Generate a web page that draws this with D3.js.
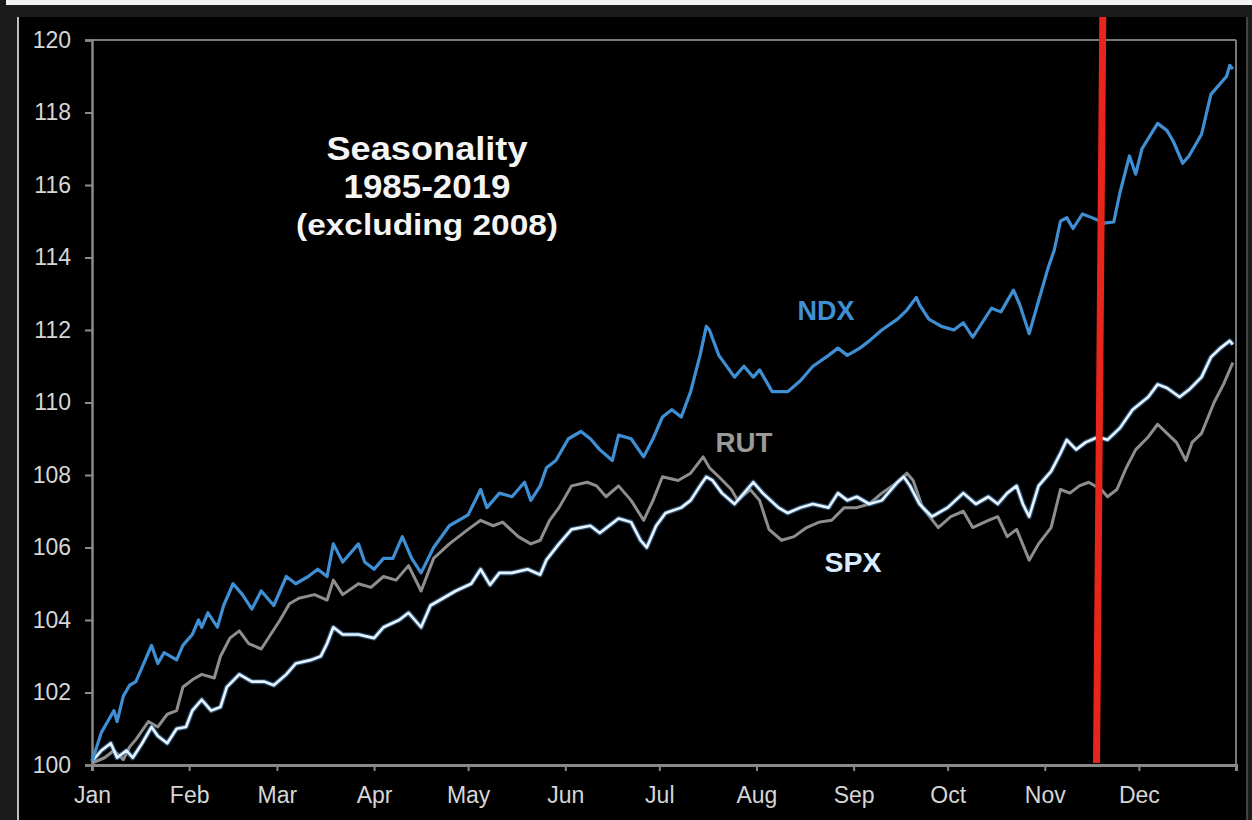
<!DOCTYPE html>
<html>
<head>
<meta charset="utf-8">
<script src="https://cdn.jsdelivr.net/npm/d3@7/dist/d3.min.js"></script>
<style>
  html, body { margin: 0; padding: 0; background: #1b1b1b; }
  svg { display: block; }
  text { font-family: "Liberation Sans", Arial, sans-serif; }
</style>
</head>
<body>
<svg id="chart" width="1252" height="820"></svg>
<script>
// ---- data (day-of-year offset from Jan 1, value indexed to 100) ----
const monthLabels = ["Jan","Feb","Mar","Apr","May","Jun","Jul","Aug","Sep","Oct","Nov","Dec"];
const yTicks = [100,102,104,106,108,110,112,114,116,118,120];
const titleLines = ["Seasonality", "1985-2019", "(excluding 2008)"];
const seriesNames = ["NDX", "RUT", "SPX"];
const markerDays = [320.5, 322.5]; // red vertical marker (bottom, top)

const ndx = [
  [0,100.1],[3,100.9],[5,101.2],[7,101.5],[8,101.2],[10,101.9],[12,102.2],[14,102.3],[16,102.7],[19,103.3],
  [21,102.8],[23,103.1],[27,102.9],[29,103.3],[32,103.6],[34,104.0],[35,103.8],[37,104.2],[40,103.8],[42,104.4],
  [45,105.0],[48,104.7],[51,104.3],[54,104.8],[58,104.4],[62,105.2],[65,105.0],[69,105.2],[72,105.4],[75,105.2],
  [77,106.1],[80,105.6],[85,106.1],[87,105.6],[90,105.4],[93,105.7],[96,105.7],[99,106.3],[102,105.7],[105,105.3],
  [109,106.0],[114,106.6],[120,106.9],[124,107.6],[126,107.1],[130,107.5],[134,107.4],[138,107.8],[140,107.3],[143,107.7],
  [145,108.2],[148,108.4],[152,109.0],[156,109.2],[159,109.0],[162,108.7],[166,108.4],[168,109.1],[172,109.0],[176,108.5],
  [179,109.0],[182,109.6],[185,109.8],[188,109.6],[191,110.3],[194,111.3],[196,112.1],[197,112.0],[200,111.3],[205,110.7],
  [208,111.0],[211,110.7],[213,110.9],[217,110.3],[222,110.3],[226,110.6],[230,111.0],[235,111.3],[238,111.5],[241,111.3],
  [245,111.5],[248,111.7],[252,112.0],[257,112.3],[260,112.55],[263,112.9],[264,112.7],[267,112.3],[271,112.1],[275,112.0],
  [278,112.2],[281,111.8],[284,112.2],[287,112.6],[290,112.5],[294,113.1],[296,112.7],[299,111.9],[302,112.8],[305,113.7],
  [307,114.2],[309,115.0],[311,115.1],[313,114.8],[316,115.2],[319,115.1],[323,114.95],[326,114.98],[328,115.8],[331,116.8],
  [333,116.3],[335,117.0],[340,117.7],[343,117.5],[345,117.2],[348,116.6],[350,116.8],[354,117.4],[357,118.5],[359,118.7],
  [362,119.0],[363,119.3],[364,119.2]
];

const spx = [
  [0,100.1],[3,100.4],[6,100.6],[8,100.2],[11,100.4],[13,100.2],[16,100.6],[19,101.05],[21,100.8],[24,100.6],
  [27,101.0],[30,101.05],[32,101.5],[35,101.8],[38,101.5],[41,101.6],[43,102.15],[47,102.5],[51,102.3],[55,102.3],
  [58,102.2],[62,102.5],[65,102.8],[70,102.9],[73,103.0],[75,103.35],[77,103.8],[80,103.6],[85,103.6],[90,103.5],
  [93,103.8],[98,104.0],[101,104.2],[105,103.8],[108,104.4],[112,104.6],[116,104.8],[121,105.0],[124,105.4],[127,104.97],
  [130,105.3],[134,105.3],[139,105.4],[143,105.25],[145,105.66],[149,106.1],[153,106.5],[159,106.6],[162,106.4],[165,106.6],
  [168,106.8],[172,106.7],[175,106.2],[177,106.0],[180,106.6],[183,106.95],[188,107.1],[191,107.3],[194,107.7],[196,107.95],
  [198,107.85],[201,107.5],[205,107.2],[207,107.4],[211,107.8],[214,107.5],[219,107.1],[222,106.95],[226,107.1],[230,107.2],
  [235,107.1],[238,107.5],[241,107.3],[244,107.4],[248,107.2],[252,107.3],[257,107.8],[259,107.95],[261,107.7],[264,107.2],
  [268,106.85],[273,107.1],[278,107.5],[282,107.2],[286,107.4],[289,107.2],[292,107.5],[295,107.7],[297,107.2],[299,106.85],
  [302,107.7],[306,108.1],[309,108.6],[311,108.97],[314,108.7],[317,108.9],[321,109.05],[324,108.97],[328,109.3],[332,109.8],
  [337,110.15],[340,110.5],[343,110.4],[347,110.15],[350,110.35],[354,110.7],[357,111.25],[360,111.5],[363,111.7],[364,111.6]
];

const rut = [
  [0,100.05],[4,100.2],[7,100.4],[10,100.15],[12,100.5],[14,100.7],[18,101.2],[21,101.05],[24,101.4],[27,101.5],
  [29,102.15],[32,102.35],[35,102.5],[39,102.4],[41,103.0],[44,103.5],[47,103.7],[50,103.35],[54,103.2],[57,103.6],
  [60,104.0],[63,104.45],[66,104.6],[71,104.7],[75,104.55],[77,105.1],[80,104.7],[85,105.0],[89,104.9],[93,105.2],
  [97,105.1],[101,105.5],[105,104.8],[109,105.7],[114,106.1],[120,106.5],[124,106.75],[128,106.6],[131,106.7],[136,106.3],
  [140,106.1],[143,106.2],[146,106.75],[149,107.1],[153,107.7],[158,107.8],[161,107.7],[164,107.4],[168,107.7],[172,107.3],
  [176,106.75],[179,107.3],[182,107.95],[187,107.85],[191,108.05],[195,108.5],[197,108.2],[200,107.95],[204,107.6],[206,107.3],
  [210,107.6],[213,107.3],[216,106.5],[220,106.2],[224,106.3],[228,106.55],[232,106.7],[236,106.75],[240,107.1],[244,107.1],
  [248,107.2],[252,107.5],[257,107.8],[260,108.05],[262,107.85],[265,107.1],[270,106.55],[274,106.85],[278,107.0],[281,106.55],
  [286,106.75],[289,106.85],[292,106.3],[295,106.5],[299,105.65],[302,106.1],[306,106.55],[309,107.6],[312,107.5],[315,107.7],
  [318,107.8],[322,107.6],[324,107.4],[327,107.6],[330,108.2],[333,108.7],[337,109.05],[340,109.4],[343,109.15],[346,108.9],
  [349,108.4],[351,108.9],[354,109.15],[358,110.0],[361,110.5],[364,111.1]
];

// ---- drawing ----
const svg = d3.select("#chart");
const W = 1252, H = 820;
const margin = {left: 92, right: 16, top: 40, bottom: 55};
const start = new Date(2019, 0, 1), end = new Date(2020, 0, 1);
const x = d3.scaleTime().domain([start, end]).range([margin.left, W - margin.right]);
const y = d3.scaleLinear().domain([100, 120]).range([H - margin.bottom, margin.top]);
const toDate = d => d3.timeDay.offset(start, Math.floor(d)).getTime() + (d % 1) * 864e5;

// frame / background
svg.append("rect").attr("x", 0).attr("y", 0).attr("width", W).attr("height", H).attr("fill", "#1b1b1b");
svg.append("rect").attr("x", 6).attr("y", 0).attr("width", W - 6).attr("height", 5).attr("fill", "#f2f2f2");
svg.append("rect").attr("x", 18).attr("y", 17).attr("width", 1229).attr("height", H - 17).attr("fill", "#000");
svg.append("line").attr("x1", 18).attr("x2", 18).attr("y1", 17).attr("y2", H)
  .attr("stroke", "#bdbdbd").attr("stroke-width", 2);
svg.append("line").attr("x1", 1247).attr("x2", 1247).attr("y1", 17).attr("y2", H)
  .attr("stroke", "#555").attr("stroke-width", 1.5);

const axisColor = "#8a8a8a";
const labelColor = "#d6d6d6";

// plot frame: top and right lines
svg.append("line").attr("x1", x(start)).attr("x2", x(end)).attr("y1", y(120)).attr("y2", y(120))
  .attr("stroke", "#7a7a7a").attr("stroke-width", 2);
svg.append("line").attr("x1", x(end)).attr("x2", x(end)).attr("y1", y(120)).attr("y2", y(100))
  .attr("stroke", "#7a7a7a").attr("stroke-width", 2);

// y axis
const yAxis = d3.axisLeft(y).tickValues(yTicks).tickSize(7).tickPadding(14).tickFormat(d3.format("d"));
const gy = svg.append("g").attr("transform", `translate(${margin.left},0)`).call(yAxis);
gy.select(".domain").attr("stroke", axisColor).attr("stroke-width", 2.5);
gy.selectAll(".tick line").attr("stroke", axisColor).attr("stroke-width", 2);
gy.selectAll(".tick text").attr("fill", labelColor).attr("font-size", 23)
  .attr("font-family", "Liberation Sans, Arial, sans-serif");

// x axis
const monthTicks = d3.timeMonth.range(start, end);
const xAxis = d3.axisBottom(x).tickValues(monthTicks.concat([end])).tickSize(6).tickPadding(16)
  .tickFormat((d, i) => i < monthLabels.length ? monthLabels[i] : "");
const gx = svg.append("g").attr("transform", `translate(0,${y(100)})`).call(xAxis);
gx.select(".domain").attr("stroke", axisColor).attr("stroke-width", 3);
gx.selectAll(".tick line").attr("stroke", axisColor).attr("stroke-width", 2);
gx.selectAll(".tick text").attr("fill", labelColor).attr("font-size", 23)
  .attr("font-family", "Liberation Sans, Arial, sans-serif");

// lines
const line = d3.line().x(d => x(toDate(d[0]))).y(d => y(d[1])).curve(d3.curveLinear);

svg.append("path").datum(rut).attr("d", line).attr("fill", "none")
  .attr("stroke", "#8e8e8e").attr("stroke-width", 3).attr("stroke-linejoin", "round");
svg.append("path").datum(spx).attr("d", line).attr("fill", "none")
  .attr("stroke", "#4f8fc8").attr("stroke-width", 5).attr("stroke-opacity", 0.55).attr("stroke-linejoin", "round");
svg.append("path").datum(spx).attr("d", line).attr("fill", "none")
  .attr("stroke", "#e8f4ff").attr("stroke-width", 2.6).attr("stroke-linejoin", "round");
svg.append("path").datum(ndx).attr("d", line).attr("fill", "none")
  .attr("stroke", "#3f8fd4").attr("stroke-width", 3.2).attr("stroke-linejoin", "round");

// red marker
svg.append("line")
  .attr("x1", x(toDate(markerDays[0]))).attr("y1", y(100) - 2)
  .attr("x2", x(toDate(markerDays[1]))).attr("y2", 17)
  .attr("stroke", "#e8251a").attr("stroke-width", 7);

// title
const titleSpec = [
  {size: 34, y: 160, len: 201},
  {size: 34, y: 198, len: 167},
  {size: 29, y: 235, len: 262}
];
titleLines.forEach((t, i) => {
  svg.append("text").attr("x", 427).attr("y", titleSpec[i].y)
    .attr("text-anchor", "middle").attr("font-size", titleSpec[i].size).attr("font-weight", "bold")
    .attr("fill", "#f4f4f4").attr("textLength", titleSpec[i].len).attr("lengthAdjust", "spacingAndGlyphs")
    .text(t);
});

// series labels
const labelSpec = {
  NDX: {x: 826, y: 320, color: "#3f8fd4"},
  RUT: {x: 744, y: 452, color: "#9a9a9a"},
  SPX: {x: 853, y: 572, color: "#d8ecff"}
};
seriesNames.forEach(n => {
  svg.append("text").attr("x", labelSpec[n].x).attr("y", labelSpec[n].y)
    .attr("text-anchor", "middle").attr("font-size", 27).attr("font-weight", "bold")
    .attr("fill", labelSpec[n].color).attr("textLength", 57).attr("lengthAdjust", "spacingAndGlyphs")
    .text(n);
});
</script>
</body>
</html>
